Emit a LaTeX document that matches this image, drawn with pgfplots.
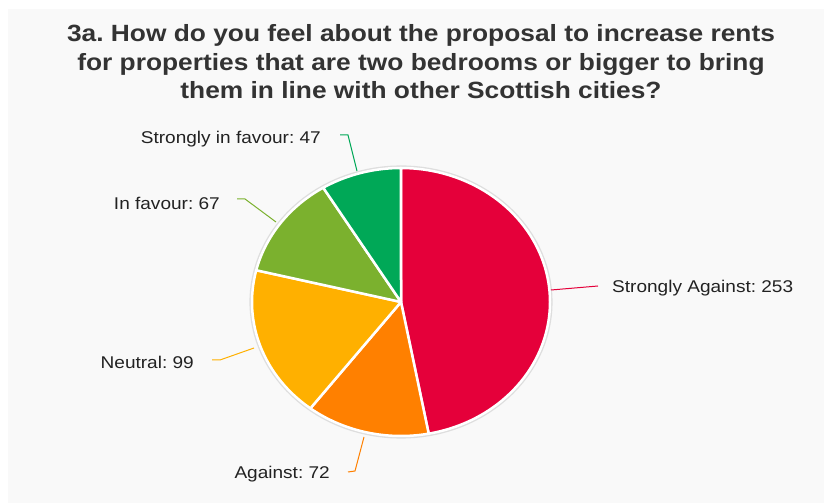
\documentclass[border=0pt]{standalone}
\usepackage{pgfplots}
\pgfplotsset{compat=1.18}
\usepackage{pgfplotstable}
\usepackage{fontspec}
\setmainfont{Liberation Sans}
\frenchspacing
\definecolor{bgc}{HTML}{F9F9F9}
\definecolor{cSA}{HTML}{E5003A}
\definecolor{cA}{HTML}{FF8000}
\definecolor{cN}{HTML}{FFB000}
\definecolor{cF}{HTML}{7BB12E}
\definecolor{cSF}{HTML}{00A857}
\definecolor{txt}{HTML}{222222}
\definecolor{ttl}{HTML}{333333}

\pgfplotstableread{
label value
SA 253
A 72
N 99
F 67
SF 47
}\piedata

\newcommand{\lbl}[1]{\scalebox{1.12}[1]{\fontsize{17bp}{20bp}\selectfont #1}}

\begin{document}
\begin{tikzpicture}
\pgfplotstablegetelem{0}{value}\of\piedata \edef\vSA{\pgfplotsretval}
\pgfplotstablegetelem{1}{value}\of\piedata \edef\vA{\pgfplotsretval}
\pgfplotstablegetelem{2}{value}\of\piedata \edef\vN{\pgfplotsretval}
\pgfplotstablegetelem{3}{value}\of\piedata \edef\vF{\pgfplotsretval}
\pgfplotstablegetelem{4}{value}\of\piedata \edef\vSF{\pgfplotsretval}
\pgfmathsetmacro\tot{\vSA+\vA+\vN+\vF+\vSF}
\pgfmathsetmacro\aO{90}
\pgfmathsetmacro\aI{\aO-360*(\vSA/\tot)}
\pgfmathsetmacro\aII{\aI-360*(\vA/\tot)}
\pgfmathsetmacro\aIII{\aII-360*(\vN/\tot)}
\pgfmathsetmacro\aIV{\aIII-360*(\vF/\tot)}
\pgfmathsetmacro\aV{\aIV-360*(\vSF/\tot)}
\def\cx{401}\def\cy{201}\def\rx{149}\def\ry{134}
\begin{axis}[
  width=824bp, height=503bp, scale only axis,
  xmin=0, xmax=824, ymin=0, ymax=503,
  hide axis, clip=false,
  every axis plot/.append style={mark=none},
]
% background panel
\addplot[fill=bgc, draw=none] coordinates {(8,0) (824,0) (824,494) (8,494)} -- cycle;
% shadow ring
\addplot[fill=black!13, draw=none, domain=0:360, samples=120, variable=\t]
  ({\cx+(\rx+2.6)*cos(t)}, {\cy+(\ry+2.6)*sin(t)}) -- cycle;
% slices
\addplot[fill=cSA, draw=white, line width=2.5bp, line join=round, domain=\aI:\aO, samples=80, variable=\t]
  ({\cx+\rx*cos(t)}, {\cy+\ry*sin(t)}) -- (axis cs:\cx,\cy) -- cycle;
\addplot[fill=cA, draw=white, line width=2.5bp, line join=round, domain=\aII:\aI, samples=40, variable=\t]
  ({\cx+\rx*cos(t)}, {\cy+\ry*sin(t)}) -- (axis cs:\cx,\cy) -- cycle;
\addplot[fill=cN, draw=white, line width=2.5bp, line join=round, domain=\aIII:\aII, samples=40, variable=\t]
  ({\cx+\rx*cos(t)}, {\cy+\ry*sin(t)}) -- (axis cs:\cx,\cy) -- cycle;
\addplot[fill=cF, draw=white, line width=2.5bp, line join=round, domain=\aIV:\aIII, samples=40, variable=\t]
  ({\cx+\rx*cos(t)}, {\cy+\ry*sin(t)}) -- (axis cs:\cx,\cy) -- cycle;
\addplot[fill=cSF, draw=white, line width=2.5bp, line join=round, domain=\aV:\aIV, samples=30, variable=\t]
  ({\cx+\rx*cos(t)}, {\cy+\ry*sin(t)}) -- (axis cs:\cx,\cy) -- cycle;
% leader lines
\addplot[cSA, line width=1bp] coordinates {(551,213) (598,217)};
\addplot[cSF, line width=1bp] coordinates {(340,368) (348,368) (357,332)};
\addplot[cF, line width=1bp] coordinates {(237,304) (245,304) (276,281)};
\addplot[cN, line width=1bp] coordinates {(212,143) (220,143) (254,155)};
\addplot[cA, line width=1bp] coordinates {(348,31) (355,32) (364,66)};
% labels
\node[anchor=west, text=txt, inner sep=0pt] at (axis cs:612,215) {\lbl{Strongly Against: 253}};
\node[anchor=east, text=txt, inner sep=0pt] at (axis cs:321,364) {\lbl{Strongly in favour: 47}};
\node[anchor=east, text=txt, inner sep=0pt] at (axis cs:220,300) {\lbl{In favour: 67}};
\node[anchor=east, text=txt, inner sep=0pt] at (axis cs:194,141) {\lbl{Neutral: 99}};
\node[anchor=east, text=txt, inner sep=0pt] at (axis cs:330,29) {\lbl{Against: 72}};
% title
\node[anchor=center, text=ttl, inner sep=0pt, align=center] at (axis cs:421,441)
  {\scalebox{1.12}[1]{\parbox{700bp}{\centering\fontsize{23.5bp}{28.5bp}\selectfont\bfseries
   3a. How do you feel about the proposal to increase rents\\
   for properties that are two bedrooms or bigger to bring\\
   them in line with other Scottish cities?}}};
\end{axis}
\pgfresetboundingbox
\path[use as bounding box] (current axis.south west) rectangle (current axis.north east);
\end{tikzpicture}
\end{document}
